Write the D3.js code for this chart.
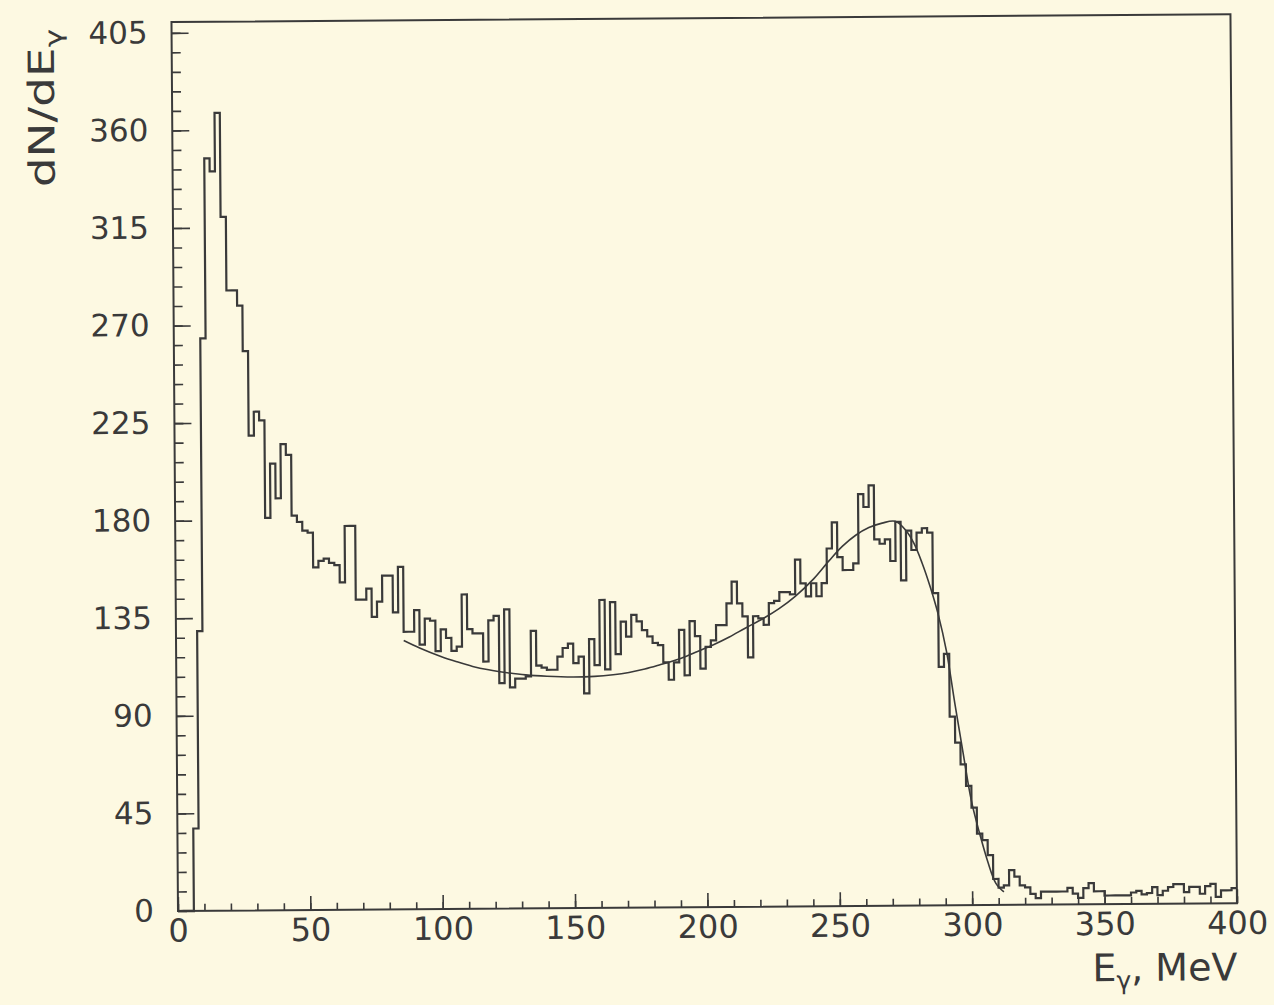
<!DOCTYPE html>
<html>
<head>
<meta charset="utf-8">
<script src="https://cdn.jsdelivr.net/npm/d3@7"></script>
<style>
  body { margin: 0; background: #fdf9e2; }
  svg { display: block; }
  text { font-family: "DejaVu Sans", sans-serif; fill: #3a3a3a; }
</style>
</head>
<body>
<div id="chart"></div>
<script>
// photon spectrum, 2 MeV bins starting at 0 MeV
const binLow = d3.range(0, 400, 2);
const counts = [
  0, 0, 0, 38, 129, 264, 347, 341, 368, 320,
  286, 286, 279, 258, 219, 230, 226, 181, 206, 190,
  215, 210, 182, 179, 175, 174, 158, 161, 162, 160,
  159, 151, 177, 177, 143, 143, 148, 135, 142, 154,
  154, 137, 158, 128, 128, 138, 122, 134, 133, 119,
  129, 125, 119, 121, 145, 129, 127, 127, 114, 133,
  135, 104, 138, 102, 106, 106, 107, 128, 112, 111,
  110, 110, 116, 120, 122, 113, 116, 99, 124, 112,
  142, 110, 141, 117, 132, 125, 135, 132, 128, 125,
  122, 121, 113, 105, 113, 128, 107, 132, 125, 110,
  120, 123, 130, 130, 140, 150, 140, 134, 115, 134,
  133, 130, 140, 141, 145, 145, 144, 160, 149, 143,
  149, 143, 149, 165, 177, 161, 155, 155, 158, 190,
  184, 194, 169, 167, 169, 159, 177, 150, 173, 164,
  172, 174, 172, 144, 110, 116, 87, 75, 65, 55,
  45, 33, 30, 23, 12, 8, 9, 16, 13, 9,
  8, 5, 3, 6, 6, 6, 6, 6, 7.7, 5,
  3, 7.5, 9.8, 6, 6, 4, 4, 4, 4, 4,
  5.3, 6, 4.4, 5, 7.7, 4, 6, 7.7, 9, 9,
  5.3, 7.7, 7.7, 4.5, 8, 9, 3, 6, 6, 7
];

// fitted curve
const fitEnergy = [86, 92, 100, 106, 112, 118, 125, 132, 140, 150, 158, 165, 171, 177, 183, 190, 196, 203, 209, 215, 222, 228, 234, 241, 247, 252, 257, 262, 267, 272, 276, 279, 282, 285, 288, 291, 294, 297, 300, 303, 306, 309, 312];
const fitValue = [124, 120.5, 116.5, 114, 111.8, 110.2, 108.8, 107.7, 107, 106.6, 106.8, 107.5, 108.5, 110, 112, 114.5, 117.5, 121, 124.5, 128.5, 133, 137.5, 143, 151, 159.5, 166, 171, 174.5, 176.5, 177.3, 173, 167, 158, 147, 134, 117, 93, 70, 48, 33, 20, 10, 6];

const xTicks = [0, 50, 100, 150, 200, 250, 300, 350, 400];
const yTicks = [0, 45, 90, 135, 180, 225, 270, 315, 360, 405];
const xMinor = d3.range(0, 401, 10);
const yMinor = d3.range(0, 406, 9);

const margin = { top: 22, right: 37, bottom: 94, left: 178 };
const width = 1274 - margin.left - margin.right;
const height = 1005 - margin.top - margin.bottom;
const ink = "#3a3a3a";

const svg = d3.select("#chart")
  .append("svg")
  .attr("width", 1274)
  .attr("height", 1005);

svg.append("rect")
  .attr("width", 1274)
  .attr("height", 1005)
  .attr("fill", "#fdf9e2");

// the scanned page is a little tilted
const page = svg.append("g")
  .attr("transform", `rotate(-0.42, ${margin.left}, ${margin.top + height})`);

const g = page.append("g")
  .attr("transform", `translate(${margin.left},${margin.top})`);

const x = d3.scaleLinear().domain([0, 400]).range([0, width]);
const y = d3.scaleLinear().domain([0, 410]).range([height, 0]);

// minor ticks (inside the frame)
g.append("g")
  .attr("color", ink)
  .call(d3.axisLeft(y).tickValues(yMinor).tickSizeInner(-9).tickSizeOuter(0).tickFormat(""))
  .call(a => a.select(".domain").remove());

g.append("g")
  .attr("color", ink)
  .attr("transform", `translate(0,${height})`)
  .call(d3.axisBottom(x).tickValues(xMinor).tickSizeInner(-7).tickSizeOuter(0).tickFormat(""))
  .call(a => a.select(".domain").remove());

// major ticks with labels
g.append("g")
  .attr("color", ink)
  .call(d3.axisLeft(y).tickValues(yTicks).tickSizeInner(-17).tickSizeOuter(0).tickPadding(24))
  .call(a => a.select(".domain").remove())
  .call(a => a.selectAll("text").attr("font-size", 31).attr("font-family", "DejaVu Sans"));

g.append("g")
  .attr("color", ink)
  .attr("transform", `translate(0,${height})`)
  .call(d3.axisBottom(x).tickValues(xTicks).tickSizeInner(-14).tickSizeOuter(0).tickPadding(8))
  .call(a => a.select(".domain").remove())
  .call(a => a.selectAll("text").attr("font-size", 32).attr("font-family", "DejaVu Sans"));

g.selectAll(".tick line").attr("stroke-width", 1.6);

// frame
g.append("rect")
  .attr("width", width)
  .attr("height", y(0) - y(410))
  .attr("fill", "none")
  .attr("stroke", ink)
  .attr("stroke-width", 2);

// histogram
const histPoints = binLow.map((e, i) => [e, counts[i]]);
histPoints.push([400, counts[counts.length - 1]]);

g.append("path")
  .datum(histPoints)
  .attr("fill", "none")
  .attr("stroke", ink)
  .attr("stroke-width", 2.2)
  .attr("d", d3.line().x(d => x(d[0])).y(d => y(d[1])).curve(d3.curveStepAfter));

// fit
g.append("path")
  .datum(fitEnergy.map((e, i) => [e, fitValue[i]]))
  .attr("fill", "none")
  .attr("stroke", ink)
  .attr("stroke-width", 1.6)
  .attr("d", d3.line().x(d => x(d[0])).y(d => y(d[1])).curve(d3.curveCatmullRom));

// axis titles
const yTitle = page.append("text")
  .attr("transform", "translate(60,28) rotate(-90) scale(1.3,1)")
  .attr("text-anchor", "end")
  .attr("font-size", 36);
yTitle.append("tspan").text("dN/dE");
yTitle.append("tspan").attr("font-size", 24).attr("dy", 8).text("γ");

const xTitle = page.append("text")
  .attr("x", 1237)
  .attr("y", 988)
  .attr("text-anchor", "end")
  .attr("font-size", 38);
xTitle.append("tspan").text("E");
xTitle.append("tspan").attr("font-size", 25).attr("dy", 8).text("γ");
xTitle.append("tspan").attr("dy", -8).text(", MeV");
</script>
</body>
</html>
